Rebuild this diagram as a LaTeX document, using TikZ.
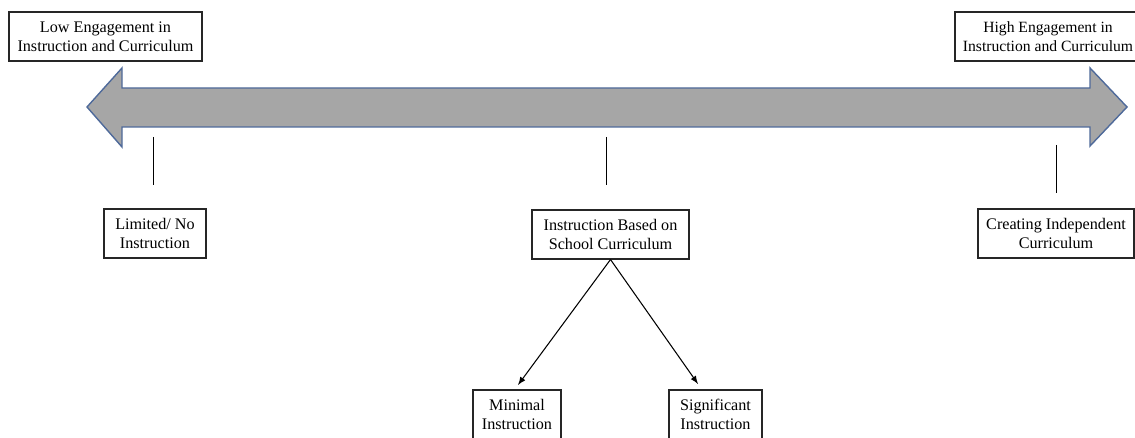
\documentclass[tikz,border=0pt]{standalone}
\usepackage{fontspec}
\setmainfont{Liberation Serif}
\usepackage{tikz}
\usetikzlibrary{calc}

\definecolor{bandgray}{HTML}{A6A6A6}
\definecolor{bandblue}{HTML}{4F6A9A}
\def\PX{0.02cm}
\tikzset{box/.style={draw=black!85, line width=0.6pt, fill=white, align=center, inner sep=0pt,
  minimum height=49*\PX, font=\fontsize{9.2}{11}\selectfont}}

\begin{document}
\begin{tikzpicture}[x=0.02cm, y=-0.02cm]
\useasboundingbox (0,0) rectangle (1135,438);
% engagement scale
\draw[bandblue, fill=bandgray, line width=0.8pt] (87,107)--(122,68)--(122,88)--(1090,88)--(1090,68)--(1127,107)
  --(1090,146)--(1090,127)--(122,127)--(122,147)--cycle;
\node[box, minimum width=193*\PX] (low) at (105.5,36.5) {Low Engagement in\\Instruction and Curriculum};
\node[box, minimum width=186*\PX, font=\fontsize{8.9}{11}\selectfont] (high) at (1048,36.5) {High Engagement in\\Instruction and Curriculum};
% ticks
\coordinate (t1a) at (153,137); \coordinate (t1b) at (153,185); \draw[line width=0.45pt] (t1a)--(t1b);
\coordinate (t2a) at (606,137); \coordinate (t2b) at (606,185); \draw[line width=0.45pt] (t2a)--(t2b);
\coordinate (t3a) at (1056,145); \coordinate (t3b) at (1056,193); \draw[line width=0.45pt] (t3a)--(t3b);
\node[box, minimum width=102*\PX] (limited) at (155,233.5) {Limited/ No\\Instruction};
\node[box, minimum width=157*\PX] (school) at (610.5,234.5) {Instruction Based on\\School Curriculum};
\node[box, minimum width=156*\PX] (indep) at (1056,233.5) {Creating Independent\\Curriculum};
% split of school based instruction
\node[box, minimum width=88*\PX] (minimal) at (517,414.5) {Minimal\\Instruction};
\node[box, minimum width=93*\PX] (signif) at (715.5,414.5) {Significant\\Instruction};
\coordinate (m) at (518,385); \coordinate (s) at (698,384);
\draw[-latex, line width=0.6pt] (school.south)--(m);
\draw[-latex, line width=0.6pt] (school.south)--(s);
\end{tikzpicture}
\end{document}
